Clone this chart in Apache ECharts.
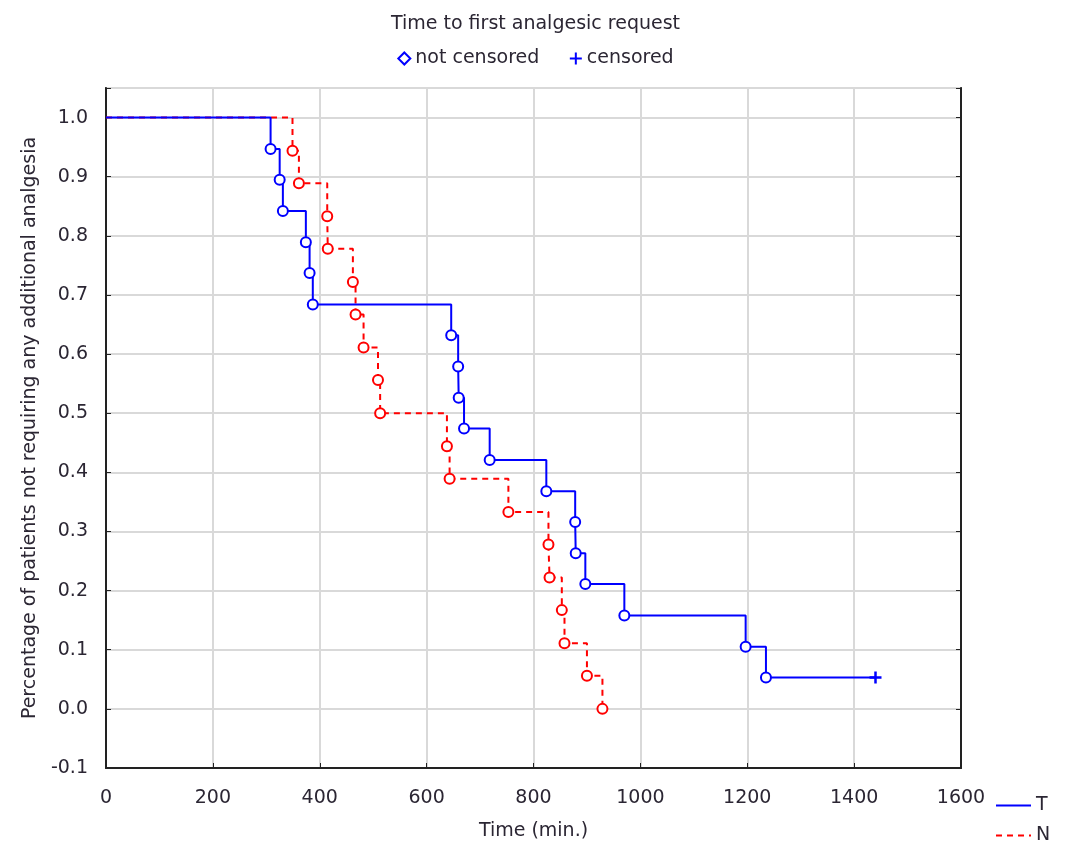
<!DOCTYPE html>
<html>
<head>
<meta charset="utf-8">
<script src="https://cdn.jsdelivr.net/npm/echarts@6/dist/echarts.min.js"></script>
<style>
  body { margin: 0; background: #fff; }
  #main { width: 1071px; height: 846px; }
</style>
</head>
<body>
<div id="main"></div>
<script>
// Kaplan-Meier estimates
var timeT = [0, 308, 325, 331, 374, 381, 387, 646, 659, 660, 670, 718, 824, 878, 879, 897, 970, 1197, 1235];
var survT = [1.0, 0.947, 0.895, 0.842, 0.789, 0.737, 0.684, 0.632, 0.579, 0.526, 0.474, 0.421, 0.368, 0.316, 0.263, 0.211, 0.158, 0.105, 0.053];
var censoredTimeT = [1440];
var censoredSurvT = [0.053];

var timeN = [0, 349, 361, 414, 415, 462, 467, 482, 509, 513, 638, 643, 753, 828, 830, 853, 858, 900, 929];
var survN = [1.0, 0.944, 0.889, 0.833, 0.778, 0.722, 0.667, 0.611, 0.556, 0.5, 0.444, 0.389, 0.333, 0.278, 0.222, 0.167, 0.111, 0.056, 0.0];

var yTicks = [-0.1, 0.0, 0.1, 0.2, 0.3, 0.4, 0.5, 0.6, 0.7, 0.8, 0.9, 1.0];

var blue = "#0000ff";
var red = "#ff0000";
var font = "DejaVu Sans, Verdana, sans-serif";
var textColor = "#2b2633";

function pairs(xs, ys) {
  return xs.map(function (x, i) { return [x, ys[i]]; });
}

var lineT = pairs(timeT, survT).concat(pairs(censoredTimeT, censoredSurvT));
var lineN = pairs(timeN, survN);
var eventsT = pairs(timeT, survT).slice(1);
var eventsN = pairs(timeN, survN).slice(1);
var censT = pairs(censoredTimeT, censoredSurvT);

var plusPath = "path://M0,5L10,5M5,0L5,10";

var chart = echarts.init(document.getElementById("main"));
var option = {
  animation: false,
  backgroundColor: "#fff",
  title: {
    text: "Time to first analgesic request",
    left: "center",
    top: 10,
    textStyle: { fontFamily: font, fontSize: 19, fontWeight: "normal", color: textColor }
  },
  legend: [
    {
      // marker legend
      top: 44,
      left: "center",
      itemGap: 28,
      itemWidth: 12,
      itemHeight: 12,
      textStyle: { fontFamily: font, fontSize: 19, color: textColor },
      data: [
        { name: "not censored", icon: "emptyDiamond", itemStyle: { color: blue, borderColor: blue, borderWidth: 2 } },
        { name: "censored", icon: plusPath, itemStyle: { color: "none", borderColor: blue, borderWidth: 2 } }
      ],
      selectedMode: false
    },
    {
      // group legend
      orient: "vertical",
      left: 995,
      top: 796,
      padding: 0,
      itemGap: 11,
      itemWidth: 35,
      itemHeight: 14,
      textStyle: { fontFamily: font, fontSize: 19, color: textColor },
      data: [
        { name: "T", itemStyle: { opacity: 0 } },
        { name: "N", itemStyle: { opacity: 0 } }
      ],
      selectedMode: false
    }
  ],
  grid: {
    left: 106,
    right: 110,
    top: 88,
    bottom: 75,
    show: true,
    borderColor: "#222",
    borderWidth: 1.5
  },
  xAxis: {
    type: "value",
    min: 0,
    max: 1600,
    interval: 200,
    name: "Time (min.)",
    nameLocation: "middle",
    nameGap: 54,
    nameTextStyle: { fontFamily: font, fontSize: 19, color: textColor },
    axisLine: { show: true, onZero: false, lineStyle: { color: "#222", width: 2 } },
    axisTick: { show: true, inside: true, length: 5, lineStyle: { color: "#222" } },
    axisLabel: {
      fontFamily: font, fontSize: 19, color: textColor, margin: 21,
      formatter: function (v) { return String(v); }
    },
    splitLine: { show: true, lineStyle: { color: "#d9d9d9", width: 2 } }
  },
  yAxis: [
    {
      type: "value",
      min: -0.1,
      max: 1.05,
      interval: 0.1,
      name: "Percentage of patients not requiring any additional analgesia",
      nameLocation: "middle",
      nameGap: 64,
      nameTextStyle: { fontFamily: font, fontSize: 19, color: textColor },
      axisLine: { show: true, lineStyle: { color: "#222", width: 2 } },
      axisTick: { show: true, inside: true, length: 5, lineStyle: { color: "#222" } },
      axisLabel: {
        fontFamily: font, fontSize: 19, color: textColor, margin: 18,
        formatter: function (v) {
          var hit = yTicks.filter(function (t) { return Math.abs(t - v) < 1e-6; });
          return hit.length ? hit[0].toFixed(1) : "";
        }
      },
      splitLine: { show: true, lineStyle: { color: "#d9d9d9", width: 2 } }
    },
    {
      type: "value",
      position: "right",
      min: -0.1,
      max: 1.05,
      interval: 0.1,
      axisLine: { show: true, lineStyle: { color: "#222", width: 2 } },
      axisTick: { show: true, inside: true, length: 5, lineStyle: { color: "#222" } },
      axisLabel: { show: false },
      splitLine: { show: false }
    }
  ],
  series: [
    {
      name: "T",
      type: "line",
      step: "end",
      data: lineT,
      symbol: "none",
      color: blue,
      lineStyle: { color: blue, width: 2 },
      z: 3
    },
    {
      name: "N",
      type: "line",
      step: "end",
      data: lineN,
      symbol: "none",
      color: red,
      lineStyle: { color: red, width: 2, type: [6, 5] },
      z: 2
    },
    {
      name: "not censored",
      type: "scatter",
      data: eventsT,
      symbol: "emptyCircle",
      symbolSize: 10,
      itemStyle: { color: blue, borderWidth: 2, opacity: 1 },
      z: 4
    },
    {
      name: "N events",
      type: "scatter",
      data: eventsN,
      symbol: "emptyCircle",
      symbolSize: 10,
      itemStyle: { color: red, borderWidth: 2, opacity: 1 },
      z: 4
    },
    {
      name: "censored",
      type: "scatter",
      data: censT,
      symbol: plusPath,
      symbolSize: 12,
      itemStyle: { color: "none", borderColor: blue, borderWidth: 2.5, opacity: 1 },
      z: 4
    }
  ]
};
chart.setOption(option);
</script>
</body>
</html>
